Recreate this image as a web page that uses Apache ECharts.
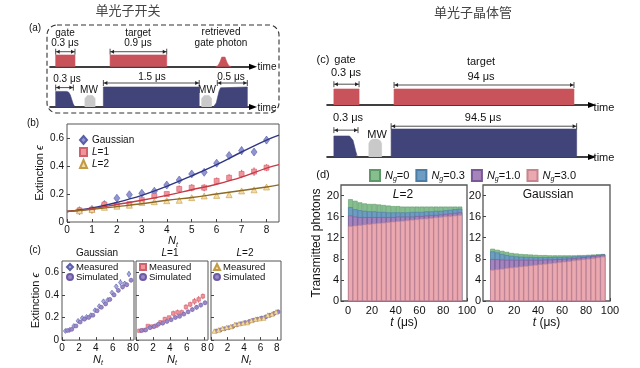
<!DOCTYPE html>
<html><head><meta charset="utf-8">
<script src="https://cdn.jsdelivr.net/npm/echarts@6/dist/echarts.min.js"></script>
<style>html,body{margin:0;padding:0;background:#fff}#c{width:640px;height:368px}</style>
</head><body><div id="c"></div>
<script>
const FONT = "'Liberation Sans Narrow','Liberation Sans',Arial,sans-serif";
const CJK = "'Noto Sans CJK SC',sans-serif";

// ---------- (b)/(c) extinction data ----------
const Nt = [0.5,1,1.5,2,2.5,3,3.5,4,4.5,5,5.5,6,6.5,7,7.5,8];
const gaussMeas = [0.081,0.09,0.125,0.17,0.195,0.205,0.22,0.264,0.30,0.343,0.355,0.42,0.475,0.51,0.50,0.585];
const gaussErr  = [0.01,0.012,0.012,0.015,0.015,0.012,0.015,0.015,0.018,0.018,0.015,0.015,0.02,0.028,0.022,0.025];
const L1Meas = [0.083,0.088,0.125,0.12,0.128,0.157,0.186,0.20,0.236,0.245,0.245,0.293,0.316,0.343,0.36,0.388];
const L1Err  = [0.01,0.012,0.012,0.012,0.012,0.015,0.02,0.015,0.025,0.025,0.025,0.025,0.025,0.03,0.03,0.025];
const L2Meas = [0.08,0.09,0.105,0.113,0.12,0.14,0.145,0.152,0.155,0.174,0.186,0.19,0.195,0.222,0.23,0.25];
const L2Err  = [0.008,0.01,0.01,0.01,0.01,0.012,0.012,0.012,0.012,0.012,0.012,0.012,0.015,0.015,0.015,0.015];
const fitN = [0,1,2,3,4,5,6,7,8,8.5];
const gaussFit = [0.075,0.10,0.14,0.19,0.255,0.33,0.41,0.50,0.585,0.62];
const L1Fit    = [0.075,0.095,0.125,0.155,0.19,0.23,0.27,0.32,0.385,0.41];
const L2Fit    = [0.075,0.09,0.11,0.13,0.155,0.175,0.20,0.225,0.25,0.265];
const gaussSim = [0.085,0.095,0.125,0.16,0.185,0.20,0.22,0.26,0.29,0.32,0.36,0.40,0.44,0.47,0.49,0.53];
const L1Sim    = [0.085,0.09,0.11,0.12,0.14,0.15,0.165,0.18,0.20,0.21,0.23,0.25,0.27,0.29,0.31,0.33];
const L2Sim    = [0.08,0.09,0.10,0.11,0.12,0.135,0.145,0.155,0.165,0.175,0.185,0.195,0.205,0.22,0.235,0.25];
const simErr   = [0.01,0.01,0.01,0.012,0.012,0.012,0.012,0.015,0.015,0.015,0.015,0.018,0.018,0.02,0.02,0.02];
const bTicksX = [0,1,2,3,4,5,6,7,8];
const cTicksX = [0,2,4,6,8];
const extTicksY = [0,0.2,0.4,0.6];

// ---------- (d) transmitted photons ----------
const tBins = [2,6,10,14,18,22,26,30,34,38,42,46,50,54,58,62,66,70,74,78,82,86,90,94];
const L2Ng0  = [19.3,19.0,18.7,18.5,18.4,18.4,18.3,18.2,18.1,18.0,18.0,17.9,17.9,17.9,17.9,17.9,17.9,17.9,17.9,17.9,17.9,17.9,17.9,17.9];
const L2Ng03 = [17.8,17.4,17.2,17.1,17.0,17.0,16.9,16.9,16.8,16.8,16.8,16.8,16.8,16.9,16.9,16.9,17.0,17.0,17.1,17.1,17.2,17.3,17.4,17.5];
const L2Ng1  = [16.2,16.0,15.9,15.9,15.9,15.9,15.9,15.9,15.9,15.9,16.0,16.0,16.0,16.0,16.1,16.1,16.2,16.3,16.3,16.4,16.5,16.6,16.7,16.8];
const L2Ng3  = [14.2,14.3,14.4,14.5,14.6,14.7,14.8,14.85,14.95,15.05,15.15,15.2,15.3,15.4,15.5,15.6,15.65,15.75,15.85,15.95,16.05,16.1,16.2,16.3];
const GNg0   = [9.9,9.7,9.5,9.3,9.1,9.0,8.9,8.85,8.8,8.75,8.7,8.7,8.65,8.65,8.65,8.65,8.65,8.65,8.7,8.7,8.75,8.8,8.85,8.9];
const GNg03  = [9.4,9.2,8.9,8.7,8.55,8.45,8.4,8.35,8.35,8.3,8.3,8.3,8.3,8.35,8.35,8.4,8.4,8.45,8.5,8.55,8.6,8.7,8.75,8.85];
const GNg1   = [7.95,7.9,7.85,7.8,7.8,7.8,7.8,7.8,7.8,7.8,7.8,7.85,7.85,7.9,7.95,8.0,8.05,8.1,8.2,8.3,8.4,8.5,8.6,8.75];
const GNg3   = [5.9,6.0,6.1,6.25,6.35,6.45,6.55,6.65,6.75,6.85,6.95,7.05,7.15,7.25,7.35,7.45,7.55,7.7,7.8,7.9,8.0,8.1,8.25,8.4];
const ngNames = ['Ng=0','Ng=0.3','Ng=1.0','Ng=3.0'];
const dTicksX = [0,20,40,60,80,100];
const dTicksY = [0,4,8,12,16,20];

// ---------- schematic pulse sequences (schematic time units) ----------
const aGate   = [[2.8,0],[2.8,1],[12.3,1],[12.3,0]];
const aTarget = [[29.6,0],[29.6,1],[57.5,1],[57.5,0]];
const aPhoton = [[81.5,0],[82.7,0.08],[83.7,0.4],[84.6,0.82],[85.4,0.91],[86.2,0.82],[87.1,0.4],[88.1,0.08],[89.3,0]];
const aCtrl1  = [[2.8,0],[2.8,0.78],[8.2,0.78],[9.2,0.74],[10.0,0.6],[10.7,0.38],[11.4,0.16],[12.1,0.03],[12.6,0]];
const aMW1    = [[17.2,0],[17.2,0.42],[17.6,0.52],[18.4,0.57],[19.7,0.58],[21.0,0.57],[21.8,0.52],[22.2,0.42],[22.2,0]];
const aCtrl2  = [[26.3,0],[26.3,1],[73.5,1],[73.5,0]];
const aMW2    = [[74.7,0],[74.7,0.42],[75.1,0.52],[75.9,0.57],[77.2,0.58],[78.4,0.57],[79.2,0.52],[79.6,0.42],[79.6,0]];
const aCtrl3  = [[80.4,0],[81.2,0.04],[81.9,0.2],[82.6,0.5],[83.3,0.8],[84.0,0.96],[84.6,1],[97.2,1],[97.2,0]];
const aDimsUp = [[2.8,12.3,1.28],[29.6,57.5,1.28]];
const aDimsLo = [[2.8,11.5,0.97],[26.3,73.5,1.2],[82.4,97.2,1.2]];

const cGate   = [[2.6,0],[2.6,1],[12.1,1],[12.1,0]];
const cTarget = [[25.3,0],[25.3,1],[93.2,1],[93.2,0]];
const cCtrl1  = [[2.6,0],[2.6,0.75],[8.5,0.75],[9.2,0.71],[9.8,0.6],[10.3,0.42],[10.8,0.22],[11.3,0.06],[11.8,0]];
const cMW     = [[15.8,0],[15.8,0.48],[16.3,0.58],[17.2,0.63],[18.2,0.64],[19.2,0.63],[20.1,0.58],[20.6,0.48],[20.6,0]];
const cCtrl2  = [[24.2,0],[24.2,1],[94.2,1],[94.2,0]];
const cDimsUp = [[2.6,12.1,1.3],[25.3,93.2,1.25]];
const cDimsLo = [[2.6,11.7,0.96],[24.2,94.2,1.1]];

const RED = '#c9535a', NAVY = '#414479', GRAY = '#c9c9c9';

// ---------- helpers ----------
function pulse(i, data, color) {
  return {type:'line', xAxisIndex:i, yAxisIndex:i, data, symbol:'none', silent:true,
    lineStyle:{width:0.6,color}, areaStyle:{color, opacity:1}, z:2};
}
function dims(i, data) {
  return {type:'custom', xAxisIndex:i, yAxisIndex:i, data, encode:{x:[0,1], y:2}, silent:true, z:3,
    renderItem:(p, api) => {
      const a = api.coord([api.value(0), api.value(2)]);
      const b = api.coord([api.value(1), api.value(2)]);
      const h = 2, w = 4, st = {stroke:'#222', lineWidth:0.8};
      return {type:'group', children:[
        {type:'line', shape:{x1:a[0],y1:a[1],x2:b[0],y2:b[1]}, style:st},
        {type:'line', shape:{x1:a[0],y1:a[1]-3,x2:a[0],y2:a[1]+3}, style:st},
        {type:'line', shape:{x1:b[0],y1:b[1]-3,x2:b[0],y2:b[1]+3}, style:st},
        {type:'polygon', shape:{points:[[a[0]+0.5,a[1]],[a[0]+w,a[1]-h],[a[0]+w,a[1]+h]]}, style:{fill:'#222'}},
        {type:'polygon', shape:{points:[[b[0]-0.5,b[1]],[b[0]-w,b[1]-h],[b[0]-w,b[1]+h]]}, style:{fill:'#222'}}
      ]};
    }};
}
function errBars(i, xs, ys, es, color, dx, w) {
  return {type:'custom', xAxisIndex:i, yAxisIndex:i, silent:true, z:3,
    data: xs.map((x, k) => [x + dx, ys[k], es[k]]), encode:{x:0, y:1},
    renderItem:(p, api) => {
      const x = api.value(0), y = api.value(1), e = api.value(2);
      const a = api.coord([x, y - e]), b = api.coord([x, y + e]);
      return {type:'line', shape:{x1:a[0],y1:a[1],x2:b[0],y2:b[1]}, style:{stroke:color, lineWidth:w}};
    }};
}
function pts(i, name, xs, ys, dx, symbol, size, fill, border) {
  return {type:'scatter', name, xAxisIndex:i, yAxisIndex:i, symbol, symbolSize:size,
    data: xs.map((x, k) => [x + dx, ys[k]]), z:4,
    itemStyle:{color:fill, borderColor:border, borderWidth:0.6, opacity:1}};
}
function fit(i, ys, color) {
  return {type:'line', xAxisIndex:i, yAxisIndex:i, data: fitN.map((x,k)=>[x, ys[k]]), smooth:0.4,
    symbol:'none', silent:true, lineStyle:{color, width:1.4}, z:5};
}
function bars(i, name, ys, fill, border) {
  return {type:'bar', name, xAxisIndex:i, yAxisIndex:i, data: tBins.map((t,k)=>[t, ys[k]]),
    barGap:'-100%', barCategoryGap:'0%', itemStyle:{color:fill, borderColor:border, borderWidth:0.6}, silent:true};
}
function T(x, y, text, size, extra) {
  return Object.assign({type:'text', x, y, silent:true, style:Object.assign({text, fontSize:size, fontFamily:FONT,
    fill:'#111', align:'center', verticalAlign:'middle', textAlign:'center', textVerticalAlign:'middle',
    rich:{i:{fontStyle:'italic', fontSize:size, fontFamily:FONT}}}, (extra||{}))});
}
const richAx = (s) => ({i:{fontStyle:'italic', fontSize:s, fontFamily:FONT, lineHeight:s+4},
  s:{fontStyle:'italic', fontSize:Math.round(s*0.65), fontFamily:FONT, verticalAlign:'bottom', lineHeight:Math.round(s*0.7)}});

// ---------- axes ----------
const schemX = (i) => ({gridIndex:i, type:'value', min:0, max:100,
  axisLine:{show:true, onZero:true, symbol:['none','triangle'], symbolSize:[6,8], lineStyle:{color:'#000', width:1.6}},
  axisTick:{show:false}, axisLabel:{show:false}, splitLine:{show:false}});
const schemY = (i, max) => ({gridIndex:i, type:'value', min:0, max, show:false});

const lab = (s) => ({fontSize:s, fontFamily:FONT, color:'#111'});
const fmt = (dec) => (v) => (v === 0 ? '0' : v.toFixed(dec));
function dataX(i, max, ticks, s, name, gap) {
  return {gridIndex:i, type:'value', min:0, max,
    axisLine:{show:false, onZero:false}, axisTick:{show:true, inside:true, length:3, customValues:ticks, lineStyle:{color:'#444'}},
    axisLabel:Object.assign(lab(s), {margin:3, customValues:ticks, formatter:fmt(0)}), splitLine:{show:false},
    name, nameLocation:'middle', nameGap:gap, nameTextStyle:Object.assign(lab(s+1), {rich:richAx(s+1)})};
}
function dataY(i, max, ticks, dec, s, name, gap) {
  return {gridIndex:i, type:'value', min:0, max,
    axisLine:{show:false, onZero:false}, axisTick:{show:true, inside:true, length:3, customValues:ticks, lineStyle:{color:'#444'}},
    axisLabel:Object.assign(lab(s), {margin:3, customValues:ticks, formatter:fmt(dec)}), splitLine:{show:false},
    name: name || '', nameLocation:'middle', nameGap:gap || 20, nameTextStyle:Object.assign(lab(s+1), {rich:richAx(s+1)})};
}
const dX = (i) => ({gridIndex:i, type:'value', min:-6, max:100,
  axisLine:{show:false, onZero:false}, axisTick:{show:true, inside:true, length:3, customValues:dTicksX, lineStyle:{color:'#444'}},
  axisLabel:Object.assign(lab(11), {margin:4, customValues:dTicksX, formatter:(v)=>String(v)}), splitLine:{show:false},
  name:'{i|t} (μs)', nameLocation:'middle', nameGap:14, nameTextStyle:Object.assign(lab(12), {rich:richAx(12)})});

const grids = [
  {left:50, top:25, width:203, height:41.7},
  {left:50, top:67, width:203, height:40},
  {left:327, top:50, width:265, height:55},
  {left:327, top:110, width:265, height:47},
  {left:67, top:124, width:212, height:98},
  {left:62, top:261, width:72, height:80},
  {left:136, top:261, width:72, height:80},
  {left:211, top:261, width:70, height:80},
  {left:341, top:185, width:126, height:116},
  {left:483, top:185, width:127, height:116}
].map((g, k) => Object.assign(g, k < 4 ? {show:false} : {show:true, borderColor:'#555', borderWidth:k>=8?1.3:1, backgroundColor:'transparent'}));

const xAxes = [schemX(0), schemX(1), schemX(2), schemX(3),
  dataX(4, 8.5, bTicksX, 10, '{i|N}{s|t}', 5),
  dataX(5, 8.5, cTicksX, 10, '{i|N}{s|t}', 7), dataX(6, 8.5, cTicksX, 10, '{i|N}{s|t}', 7), dataX(7, 8.5, cTicksX, 10, '{i|N}{s|t}', 7),
  dX(8), dX(9)];
const yAxes = [schemY(0, 3.56), schemY(1, 2), schemY(2, 3.4375), schemY(3, 1.679),
  dataY(4, 0.7, extTicksY, 1, 10, 'Extinction {i|ϵ}', 20),
  dataY(5, 0.7, extTicksY, 1, 10, 'Extinction {i|ϵ}', 17), dataY(6, 0.7, extTicksY, 1, 10, ''), dataY(7, 0.7, extTicksY, 1, 10, ''),
  dataY(8, 22, dTicksY, 0, 11, 'Transmitted photons', 14), dataY(9, 22, dTicksY, 0, 11, '')];
yAxes[6].axisLabel.show = false; yAxes[7].axisLabel.show = false;
yAxes[8].axisLabel.margin = 2; yAxes[9].axisLabel.margin = 2;

// colours
const GAU = {fill:'#9094d0', edge:'#5a5fa8', line:'#2f3685', err:'#6d72c0'};
const LL1 = {fill:'#f0949c', edge:'#d0606b', line:'#c63a48', err:'#e56b77'};
const LL2 = {fill:'#f2dca8', edge:'#c49a45', line:'#8c6a22', err:'#d2b068'};
const SIM = {fill:'#9a88c8', edge:'#6d5aa5', err:'#8070b8'};
const DC = [['#86bf8f','#5e9868'],['#6e9dc4','#4d7ca5'],['#a584bd','#7a5896'],['#eaa8b0','#c8848e']];

const series = [
  pulse(0, aGate, RED), pulse(0, aTarget, RED), pulse(0, aPhoton, RED), dims(0, aDimsUp),
  pulse(1, aCtrl1, NAVY), pulse(1, aMW1, GRAY), pulse(1, aCtrl2, NAVY), pulse(1, aMW2, GRAY), pulse(1, aCtrl3, NAVY), dims(1, aDimsLo),
  pulse(2, cGate, RED), pulse(2, cTarget, RED), dims(2, cDimsUp),
  pulse(3, cCtrl1, NAVY), pulse(3, cMW, GRAY), pulse(3, cCtrl2, NAVY), dims(3, cDimsLo),
  // (b)
  fit(4, gaussFit, GAU.line), fit(4, L1Fit, LL1.line), fit(4, L2Fit, LL2.line),
  errBars(4, Nt, gaussMeas, gaussErr, GAU.err, 0, 1.3), errBars(4, Nt, L1Meas, L1Err, LL1.err, 0, 1.3), errBars(4, Nt, L2Meas, L2Err, LL2.err, 0, 1.3),
  pts(4, 'Gaussian', Nt, gaussMeas, 0, 'diamond', [6,8], GAU.fill, GAU.edge),
  pts(4, 'L=1', Nt, L1Meas, 0, 'rect', 5, LL1.fill, LL1.edge),
  pts(4, 'L=2', Nt, L2Meas, 0, 'triangle', 6, LL2.fill, LL2.edge),
  // (c)
  errBars(5, Nt, gaussMeas, gaussErr, GAU.err, -0.1, 1), errBars(5, Nt, gaussSim, simErr, SIM.err, 0.15, 1),
  pts(5, 'Measured', Nt, gaussMeas, -0.1, 'diamond', [4,5], '#a8abdc', GAU.edge),
  pts(5, 'Simulated', Nt, gaussSim, 0.15, 'circle', 4, SIM.fill, SIM.edge),
  errBars(6, Nt, L1Meas, L1Err, LL1.err, -0.1, 1), errBars(6, Nt, L1Sim, simErr, SIM.err, 0.15, 1),
  pts(6, 'Measured ', Nt, L1Meas, -0.1, 'rect', 3.5, LL1.fill, LL1.edge),
  pts(6, 'Simulated ', Nt, L1Sim, 0.15, 'circle', 4, SIM.fill, SIM.edge),
  errBars(7, Nt, L2Meas, L2Err, LL2.err, -0.1, 1), errBars(7, Nt, L2Sim, simErr, SIM.err, 0.15, 1),
  pts(7, 'Simulated  ', Nt, L2Sim, 0.15, 'circle', 4, SIM.fill, SIM.edge),
  pts(7, 'Measured  ', Nt, L2Meas, -0.1, 'triangle', 4.5, LL2.fill, LL2.edge),
  // (d)
  bars(8, ngNames[0], L2Ng0, DC[0][0], DC[0][1]), bars(8, ngNames[1], L2Ng03, DC[1][0], DC[1][1]),
  bars(8, ngNames[2], L2Ng1, DC[2][0], DC[2][1]), bars(8, ngNames[3], L2Ng3, DC[3][0], DC[3][1]),
  bars(9, ngNames[0], GNg0, DC[0][0], DC[0][1]), bars(9, ngNames[1], GNg03, DC[1][0], DC[1][1]),
  bars(9, ngNames[2], GNg1, DC[2][0], DC[2][1]), bars(9, ngNames[3], GNg3, DC[3][0], DC[3][1])
];

const legItalL = (n) => n.startsWith('L') ? '{i|L}' + n.slice(1) : n;
const smallLegend = (left, names) => ({left, top:262, orient:'vertical', itemGap:0, itemWidth:6, itemHeight:6,
  data:names, selectedMode:false, padding:0,
  textStyle:{fontSize:9.5, fontFamily:FONT, color:'#111', lineHeight:8, padding:[0,0,0,-2]}});

const option = {
  animation:false,
  grid:grids, xAxis:xAxes, yAxis:yAxes, series,
  legend:[
    {left:79, top:135, orient:'vertical', itemGap:2, itemWidth:7, itemHeight:8, selectedMode:false, padding:0,
      data:['Gaussian','L=1','L=2'], formatter:legItalL,
      textStyle:{fontSize:10, fontFamily:FONT, color:'#111', rich:{i:{fontStyle:'italic', fontSize:10, fontFamily:FONT}}}},
    smallLegend(66, ['Measured','Simulated']),
    smallLegend(139, ['Measured ','Simulated ']),
    smallLegend(213, ['Measured  ','Simulated  ']),
    {left:369, top:169, orient:'horizontal', itemGap:6, itemWidth:10, itemHeight:11, selectedMode:false, padding:0,
      icon:'rect', data:ngNames,
      formatter:(n) => '{i|N}{s|g}' + n.slice(2),
      textStyle:{fontSize:11, fontFamily:FONT, color:'#111', rich:richAx(11)}}
  ],
  graphic:[
    {type:'rect', silent:true, shape:{x:47, y:25, width:232, height:88, r:10}, style:{fill:'none', stroke:'#333', lineWidth:1.1, lineDash:[5,3]}},
    T(128, 10, '单光子开关', 13, {fontFamily:CJK, fill:'#444'}),
    T(473, 12, '单光子晶体管', 13, {fontFamily:CJK, fill:'#444'}),
    T(35, 28, '(a)', 10, {backgroundColor:'#fff'}),
    T(65, 33, 'gate', 10), T(65, 43, '0.3 μs', 10),
    T(138, 33, 'target', 10), T(138, 43, '0.9 μs', 10),
    T(221, 32, 'retrieved', 10), T(221, 43, 'gate photon', 10),
    T(267, 67, 'time', 10), T(267, 108, 'time', 10),
    T(67, 79, '0.3 μs', 10), T(89, 90, 'MW', 10), T(152, 77, '1.5 μs', 10), T(207, 90, 'MW', 10), T(231, 77, '0.5 μs', 10),
    T(323, 60, '(c)', 11), T(345, 60, 'gate', 11), T(346, 73, '0.3 μs', 11),
    T(481, 62, 'target', 11), T(481, 77, '94 μs', 11),
    T(604, 108, 'time', 11), T(604, 158, 'time', 11),
    T(348, 118, '0.3 μs', 11), T(377, 135, 'MW', 11), T(483, 118, '94.5 μs', 11),
    T(33, 123, '(b)', 10),
    T(35, 250, '(c)', 10),
    T(97, 253, 'Gaussian', 10), T(170, 253, '{i|L}=1', 10), T(245, 253, '{i|L}=2', 10),
    T(323, 175, '(d)', 11),
    T(403, 195, '{i|L}=2', 12), T(548, 195, 'Gaussian', 12)
  ]
};
const chart = echarts.init(document.getElementById('c'));
chart.setOption(option);
</script>
</body></html>
